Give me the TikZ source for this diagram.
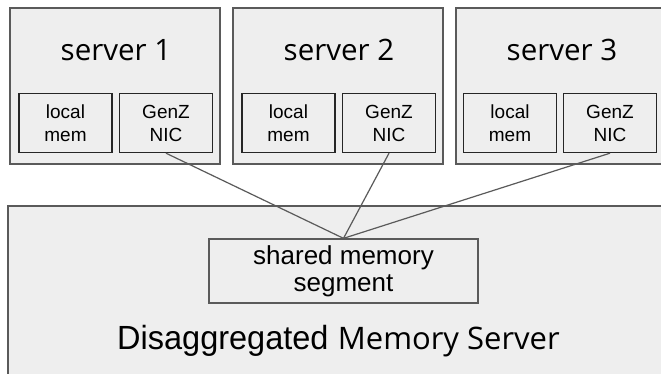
\documentclass[tikz,border=0pt]{standalone}
\usepackage{fontspec}
\setmainfont{Liberation Sans}
\newfontfamily\headfont{Open Sans}
\definecolor{boxfill}{HTML}{EEEEEE}
\definecolor{edge}{HTML}{5A5A5A}
\begin{document}
\begin{tikzpicture}[x=1pt,y=-1pt,
  outerbox/.style={draw=edge,fill=boxfill,line width=1.3pt},
  innerbox/.style={draw=black!85,fill=boxfill,line width=1.4pt,minimum width=93pt,minimum height=59pt,inner sep=0pt},
  link/.style={draw=edge,line width=1.2pt},
  small/.style={font=\fontsize{19}{23}\selectfont,align=center},
  head/.style={font=\headfont\fontsize{29.5}{32}\selectfont}]
\useasboundingbox[fill=white] (0,0) rectangle (661,374);
\begin{scope}
\clip (0,0) rectangle (661,374);
% servers
\draw[outerbox] (10,8) rectangle (220,164);
\draw[outerbox] (233,8) rectangle (443,164);
\draw[outerbox] (456,8) rectangle (668,164);
\node[head] (s1) at (116,50) {server 1};
\node[head] (s2) at (339,50) {server 2};
\node[head] (s3) at (562,50) {server 3};
% inner boxes
\node[innerbox,small] (m1) at (65.5,123) {local\\mem};
\node[innerbox,small] (n1) at (166,123) {GenZ\\NIC};
\node[innerbox,small] (m2) at (288.5,123) {local\\mem};
\node[innerbox,small] (n2) at (389,123) {GenZ\\NIC};
\node[innerbox,small] (m3) at (510,123) {local\\mem};
\node[innerbox,small] (n3) at (610,123) {GenZ\\NIC};
% memory server
\draw[outerbox] (8,206) rectangle (670,380);
\node[draw=edge,fill=boxfill,line width=1.3pt,minimum width=269pt,minimum height=64pt,inner sep=0pt,
  font=\fontsize{26}{27}\selectfont,align=center] (shm) at (343.5,271) {shared memory\\segment};
\node[inner sep=0pt,anchor=base] (dms) at (338.5,349) {\fontsize{33.5}{36}\selectfont\scalebox{0.97}[1]{Disaggregated} {\headfont\fontsize{31}{36}\selectfont Memory Server}};
\coordinate (hub) at (shm.north);
\draw[link] (n1.south) -- (hub);
\draw[link] (n2.south) -- (hub);
\draw[link] (n3.south) -- (hub);
\end{scope}
\end{tikzpicture}
\end{document}
